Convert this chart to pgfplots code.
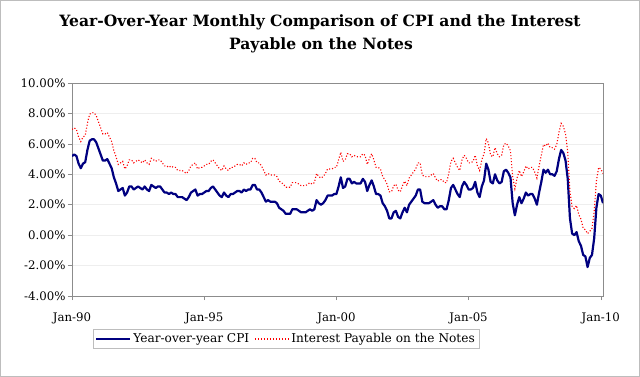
\documentclass[border=0pt]{standalone}
\usepackage{pgfplots}
\pgfplotsset{compat=1.18}
\usepackage{pgfplotstable}
\usepackage{fontspec}
\setmainfont{DejaVu Serif}
\definecolor{cpiblue}{HTML}{000080}
\definecolor{axgray}{HTML}{8C8C8C}
\definecolor{gridgray}{HTML}{EEEEEE}
\definecolor{framegray}{HTML}{BDBDBD}

% monthly values, Jan 1990 -- Feb 2010 (one year per line)
\pgfplotstableread[row sep=\\]{
cpi int\\
5.2 6.95\\ 5.3 7.05\\ 5.2 6.95\\ 4.7 6.45\\ 4.4 6.15\\ 4.7 6.45\\ 4.8 6.55\\ 5.6 7.35\\ 6.2 7.95\\ 6.3 8.05\\ 6.3 8.05\\ 6.1 7.85\\
5.7 7.45\\ 5.3 7.05\\ 4.9 6.65\\ 4.9 6.65\\ 5.0 6.75\\ 4.7 6.45\\ 4.4 6.15\\ 3.8 5.55\\ 3.4 5.15\\ 2.9 4.65\\ 3.0 4.75\\ 3.1 4.85\\
2.6 4.35\\ 2.8 4.55\\ 3.2 4.95\\ 3.2 4.95\\ 3.0 4.75\\ 3.1 4.85\\ 3.2 4.95\\ 3.1 4.85\\ 3.0 4.75\\ 3.2 4.95\\ 3.0 4.75\\ 2.9 4.65\\
3.3 5.05\\ 3.2 4.95\\ 3.1 4.85\\ 3.2 4.95\\ 3.2 4.95\\ 3.0 4.75\\ 2.8 4.55\\ 2.8 4.55\\ 2.7 4.45\\ 2.8 4.55\\ 2.7 4.45\\ 2.7 4.45\\
2.5 4.25\\ 2.5 4.25\\ 2.5 4.25\\ 2.4 4.15\\ 2.3 4.05\\ 2.5 4.25\\ 2.8 4.55\\ 2.9 4.65\\ 3.0 4.75\\ 2.6 4.35\\ 2.7 4.45\\ 2.7 4.45\\
2.8 4.55\\ 2.9 4.65\\ 2.9 4.65\\ 3.1 4.85\\ 3.2 4.95\\ 3.0 4.75\\ 2.8 4.55\\ 2.6 4.35\\ 2.5 4.25\\ 2.8 4.55\\ 2.6 4.35\\ 2.5 4.25\\
2.7 4.45\\ 2.7 4.45\\ 2.8 4.55\\ 2.9 4.65\\ 2.9 4.65\\ 2.8 4.55\\ 3.0 4.75\\ 2.9 4.65\\ 3.0 4.75\\ 3.0 4.75\\ 3.3 5.05\\ 3.3 5.05\\
3.0 4.75\\ 3.0 4.75\\ 2.8 4.55\\ 2.5 4.25\\ 2.2 3.95\\ 2.3 4.05\\ 2.2 3.95\\ 2.2 3.95\\ 2.2 3.95\\ 2.1 3.85\\ 1.8 3.55\\ 1.7 3.45\\
1.6 3.35\\ 1.4 3.15\\ 1.4 3.15\\ 1.4 3.15\\ 1.7 3.45\\ 1.7 3.45\\ 1.7 3.45\\ 1.6 3.35\\ 1.5 3.25\\ 1.5 3.25\\ 1.5 3.25\\ 1.6 3.35\\
1.7 3.45\\ 1.6 3.35\\ 1.7 3.45\\ 2.3 4.05\\ 2.1 3.85\\ 2.0 3.75\\ 2.1 3.85\\ 2.3 4.05\\ 2.6 4.35\\ 2.6 4.35\\ 2.6 4.35\\ 2.7 4.45\\
2.7 4.45\\ 3.2 4.95\\ 3.8 5.45\\ 3.1 4.85\\ 3.2 4.95\\ 3.7 5.35\\ 3.7 5.35\\ 3.4 5.15\\ 3.5 5.25\\ 3.4 5.15\\ 3.4 5.15\\ 3.4 5.15\\
3.7 5.35\\ 3.5 5.25\\ 2.9 4.65\\ 3.3 5.05\\ 3.6 5.35\\ 3.2 4.95\\ 2.7 4.45\\ 2.7 4.45\\ 2.6 4.35\\ 2.1 3.85\\ 1.9 3.65\\ 1.6 3.35\\
1.1 2.85\\ 1.1 2.85\\ 1.5 3.25\\ 1.6 3.35\\ 1.2 2.95\\ 1.1 2.85\\ 1.5 3.25\\ 1.8 3.55\\ 1.5 3.25\\ 2.0 3.75\\ 2.2 3.95\\ 2.4 4.15\\
2.6 4.35\\ 3.0 4.75\\ 3.0 4.75\\ 2.2 3.95\\ 2.1 3.85\\ 2.1 3.85\\ 2.1 3.85\\ 2.2 3.95\\ 2.3 4.05\\ 2.0 3.75\\ 1.8 3.55\\ 1.9 3.65\\
1.9 3.65\\ 1.7 3.45\\ 1.7 3.45\\ 2.3 4.05\\ 3.1 4.85\\ 3.3 5.05\\ 3.0 4.75\\ 2.7 4.45\\ 2.5 4.25\\ 3.2 4.95\\ 3.5 5.25\\ 3.3 5.05\\
3.0 4.75\\ 3.0 4.75\\ 3.1 4.85\\ 3.5 5.25\\ 2.8 4.55\\ 2.5 4.25\\ 3.2 4.95\\ 3.6 5.35\\ 4.7 6.35\\ 4.3 6.05\\ 3.5 5.25\\ 3.4 5.15\\
4.0 5.75\\ 3.6 5.35\\ 3.4 5.15\\ 3.5 5.25\\ 4.2 5.95\\ 4.3 6.05\\ 4.1 5.85\\ 3.8 5.55\\ 2.1 3.85\\ 1.3 3.05\\ 2.0 3.75\\ 2.5 4.25\\
2.1 3.85\\ 2.4 4.15\\ 2.8 4.55\\ 2.6 4.35\\ 2.7 4.45\\ 2.7 4.45\\ 2.4 4.15\\ 2.0 3.75\\ 2.8 4.55\\ 3.5 5.25\\ 4.3 5.95\\ 4.1 5.85\\
4.3 6.05\\ 4.0 5.75\\ 4.0 5.75\\ 3.9 5.65\\ 4.2 5.95\\ 5.0 6.75\\ 5.6 7.35\\ 5.4 7.15\\ 4.9 6.65\\ 3.7 5.45\\ 1.1 2.85\\ 0.1 1.85\\
0.0 1.75\\ 0.2 1.95\\ -0.4 1.35\\ -0.7 1.05\\ -1.3 0.45\\ -1.4 0.35\\ -2.1 0.10\\ -1.5 0.25\\ -1.3 0.45\\ -0.2 1.55\\ 1.8 3.55\\ 2.7 4.45\\
2.6 4.35\\ 2.1 4.05\\
}\data

\begin{document}
\begin{tikzpicture}
\useasboundingbox (0,0) rectangle (640bp,377bp);
\draw[framegray, line width=0.8bp] (0.4bp,0.4bp) rectangle (639.6bp,376.6bp);
\node[font=\bfseries\fontsize{15.6}{18}\selectfont, anchor=base, inner sep=0pt] at (320bp,350bp)
  {Year-Over-Year Monthly Comparison of CPI and the Interest};
\node[font=\bfseries\fontsize{15.6}{18}\selectfont, anchor=base, inner sep=0pt] at (321bp,327bp)
  {Payable on the Notes};
\begin{axis}[
  at={(72bp,81bp)}, anchor=south west,
  scale only axis, width=531bp, height=213bp,
  xmin=0, xmax=241, ymin=-4, ymax=10,
  xtick={0,60,120,180,240},
  xticklabels={Jan-90,Jan-95,Jan-00,Jan-05,Jan-10},
  ytick={-4,-2,0,2,4,6,8,10},
  yticklabel={\pgfmathprintnumber[fixed,fixed zerofill,precision=2]{\tick}\%},
  /pgf/number format/assume math mode=true,
  ymajorgrids, grid style={gridgray, line width=0.6bp},
  axis line style={axgray, line width=0.8bp},
  tick style={axgray, line width=0.6bp},
  tick align=outside, major tick length=4bp,
  xtick pos=bottom, ytick pos=left,
  ticklabel style={font=\fontsize{11.8}{13}\selectfont},
  yticklabel style={xshift=1bp},
  xticklabel style={yshift=-9bp},
  legend columns=2,
  legend style={at={(0.403,-0.202)}, anchor=center, draw=framegray,
    font=\fontsize{12.2}{14}\selectfont, inner sep=2bp,
    /tikz/every even column/.append style={column sep=3bp}},
  legend image code/.code={\draw[#1] (0bp,0bp) -- (34bp,0bp);},
]
\addplot[cpiblue, line width=2.2bp, line join=round] table[x expr=\coordindex, y=cpi] {\data};
\addlegendentry{Year-over-year CPI}
\addplot[red, line width=1.1bp, dash pattern=on 1.1bp off 1.9bp] table[x expr=\coordindex, y=int] {\data};
\addlegendentry{Interest Payable on the Notes}
\end{axis}
\end{tikzpicture}
\end{document}
